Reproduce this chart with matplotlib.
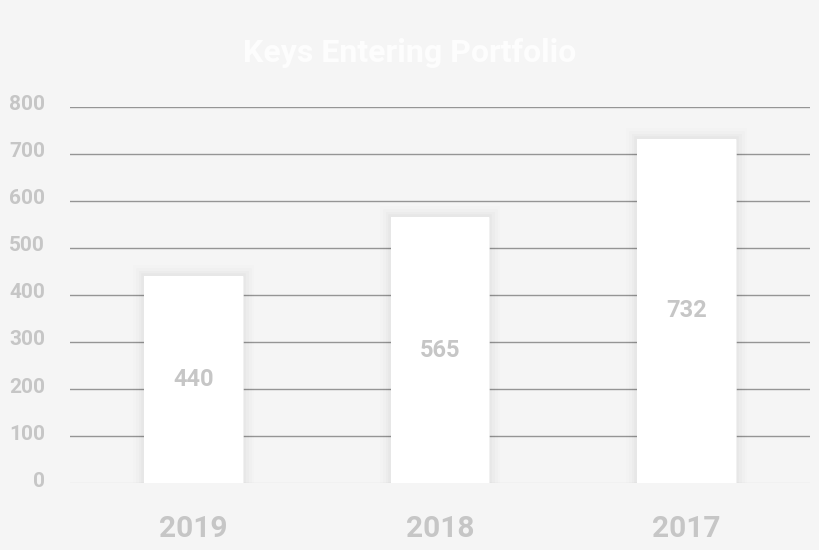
import matplotlib
matplotlib.use("Agg")
import matplotlib.pyplot as plt
from matplotlib import patheffects as pe
from matplotlib.transforms import ScaledTranslation

categories = ["2019", "2018", "2017"]
values = [440, 565, 732]
yticks = [0, 100, 200, 300, 400, 500, 600, 700, 800]
title = "Keys Entering Portfolio"

bg = "#f5f5f5"
txt = "#c6c6c6"
font = "Roboto"

fig = plt.figure(figsize=(8.2, 5.5), dpi=100, facecolor=bg)
ax = fig.add_axes([0.0854, 0.1218, 0.9024, 0.6837], facecolor=bg)

x = list(range(len(categories)))
ax.set_xlim(-0.5, len(categories) - 0.5)
ax.set_ylim(0, 800)

for t in yticks[1:]:
    ax.axhline(t, color="#959595", lw=1.0, zorder=1)
ax.axhline(0, color="#e2e2e2", lw=1.0, zorder=1)

shadow = [pe.withStroke(linewidth=w, foreground=(0, 0, 0, a))
          for w, a in [(16, 0.008), (12, 0.01), (8, 0.014), (4, 0.018)]] + [pe.Normal()]
bars = ax.bar(x, values, width=0.4, color="white", zorder=3)
for b in bars:
    b.set_path_effects(shadow)

for xi, v in zip(x, values):
    ax.text(xi, v / 2, str(v), ha="center", va="center", color=txt,
            fontsize=17, fontweight="bold", family=font, zorder=4)

ax.set_yticks(yticks)
ax.set_yticklabels([str(t) for t in yticks], color=txt, fontsize=15,
                   fontweight="bold", family=font)
ax.set_xticks(x)
ax.set_xticklabels(categories, color=txt, fontsize=21.5, fontweight="bold", family=font)
ax.tick_params(axis="y", length=0, pad=18)
ax.tick_params(axis="x", length=0, pad=23)
up = ScaledTranslation(0, 4 / 100, fig.dpi_scale_trans)
for lab in ax.get_yticklabels():
    lab.set_transform(lab.get_transform() + up)
for s in ax.spines.values():
    s.set_visible(False)

fig.text(0.5, 0.903, title, ha="center", va="center", color="#fdfdfd",
         fontsize=23, fontweight="bold", family=font)

fig.savefig("out.png", dpi=100, facecolor=bg)
